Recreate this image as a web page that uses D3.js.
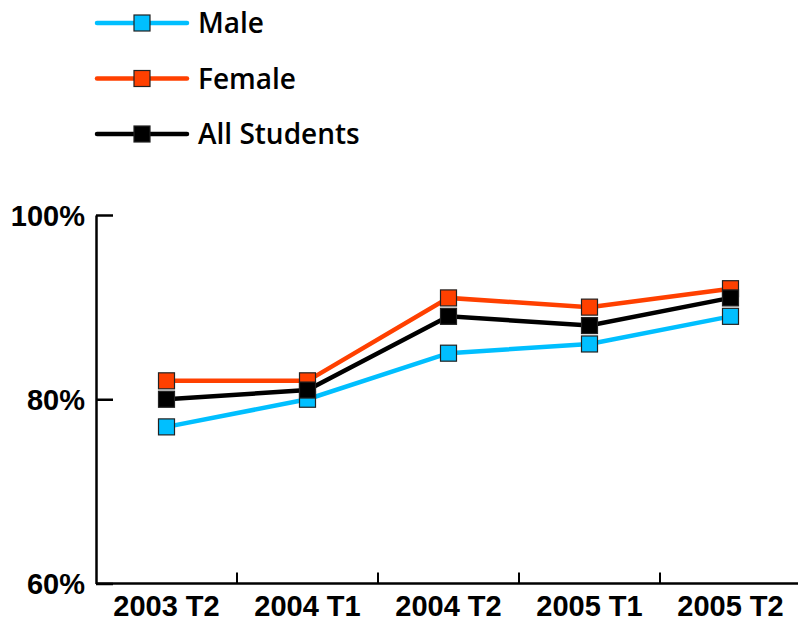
<!DOCTYPE html>
<html lang="en">
<head>
<meta charset="UTF-8">
<title>Students chart</title>
<script src="https://cdn.jsdelivr.net/npm/d3@7"></script>
<style>
  body { margin: 0; background: #fff; }
  svg { display: block; font-family: "Open Sans", "Noto Sans", sans-serif; }
</style>
</head>
<body>
<script>
'use strict';

var categories = ['2003 T2', '2004 T1', '2004 T2', '2005 T1', '2005 T2'];
var male = [77, 80, 85, 86, 89];
var female = [82, 82, 91, 90, 92];
var allStudents = [80, 81, 89, 88, 91];
var yTicks = [60, 80, 100];

var series = [
  { name: 'Male', values: male, color: '#00bfff' },
  { name: 'Female', values: female, color: '#ff4000' },
  { name: 'All Students', values: allStudents, color: '#000000' }
];

var w = 798, h = 621;
var svg = d3.select('body').append('svg').attr('width', w).attr('height', h);

var x = d3.scaleBand().domain(categories).range([96, 801]);
var y = d3.scaleLinear().domain([60, 100]).range([583.5, 215]);

// y axis, ticks point inward
var yAxis = d3.axisLeft(y).tickValues(yTicks).tickSizeInner(-17).tickSizeOuter(0)
  .tickFormat(function (d) { return d + '%'; });
var gy = svg.append('g').attr('transform', 'translate(96,0)').call(yAxis);
gy.select('.domain').attr('stroke-width', 2.5);
gy.selectAll('.tick line').attr('stroke-width', 2.5);
gy.selectAll('.tick text').attr('font-size', 29).attr('font-weight', 600).attr('fill', '#000')
  .attr('dy', '0.35em').attr('x', -11);

// x axis, labels centred, ticks at band edges
var xAxis = d3.axisBottom(x).tickSize(0).tickSizeOuter(0).tickPadding(9);
var gx = svg.append('g').attr('transform', 'translate(0,583.5)').call(xAxis);
gx.select('.domain').attr('stroke-width', 2.5).attr('d', 'M96,0H798');
gx.selectAll('.tick text').attr('font-size', 29).attr('font-weight', 600).attr('fill', '#000')
  .attr('dy', '0.8em');
gx.selectAll('.edge').data(categories.slice(1)).enter().append('line')
  .attr('x1', function (d) { return x(d); }).attr('x2', function (d) { return x(d); })
  .attr('y1', 0).attr('y2', -11).attr('stroke', '#000').attr('stroke-width', 2);

var line = d3.line()
  .x(function (d, i) { return x(categories[i]) + x.bandwidth() / 2; })
  .y(function (d) { return y(d); });

series.forEach(function (s) {
  svg.append('path').datum(s.values).attr('d', line)
    .attr('fill', 'none').attr('stroke', s.color).attr('stroke-width', 4.5);
  svg.selectAll(null).data(s.values).enter().append('rect')
    .attr('x', function (d, i) { return x(categories[i]) + x.bandwidth() / 2 - 8; })
    .attr('y', function (d) { return y(d) - 8; })
    .attr('width', 16).attr('height', 16)
    .attr('fill', s.color).attr('stroke', '#222').attr('stroke-width', 1.2);
});

// legend
var legend = svg.append('g');
series.forEach(function (s, i) {
  var ly = 23 + i * 55.5;
  legend.append('line').attr('x1', 97).attr('x2', 187).attr('y1', ly).attr('y2', ly)
    .attr('stroke', s.color).attr('stroke-width', 4.5).attr('stroke-linecap', 'round');
  legend.append('rect').attr('x', 134).attr('y', ly - 8).attr('width', 16).attr('height', 16)
    .attr('fill', s.color).attr('stroke', '#222').attr('stroke-width', 1.2);
  legend.append('text').attr('x', 198).attr('y', ly).attr('dy', '0.36em')
    .attr('font-size', 28).attr('font-weight', 600).text(s.name);
});
</script>
</body>
</html>
